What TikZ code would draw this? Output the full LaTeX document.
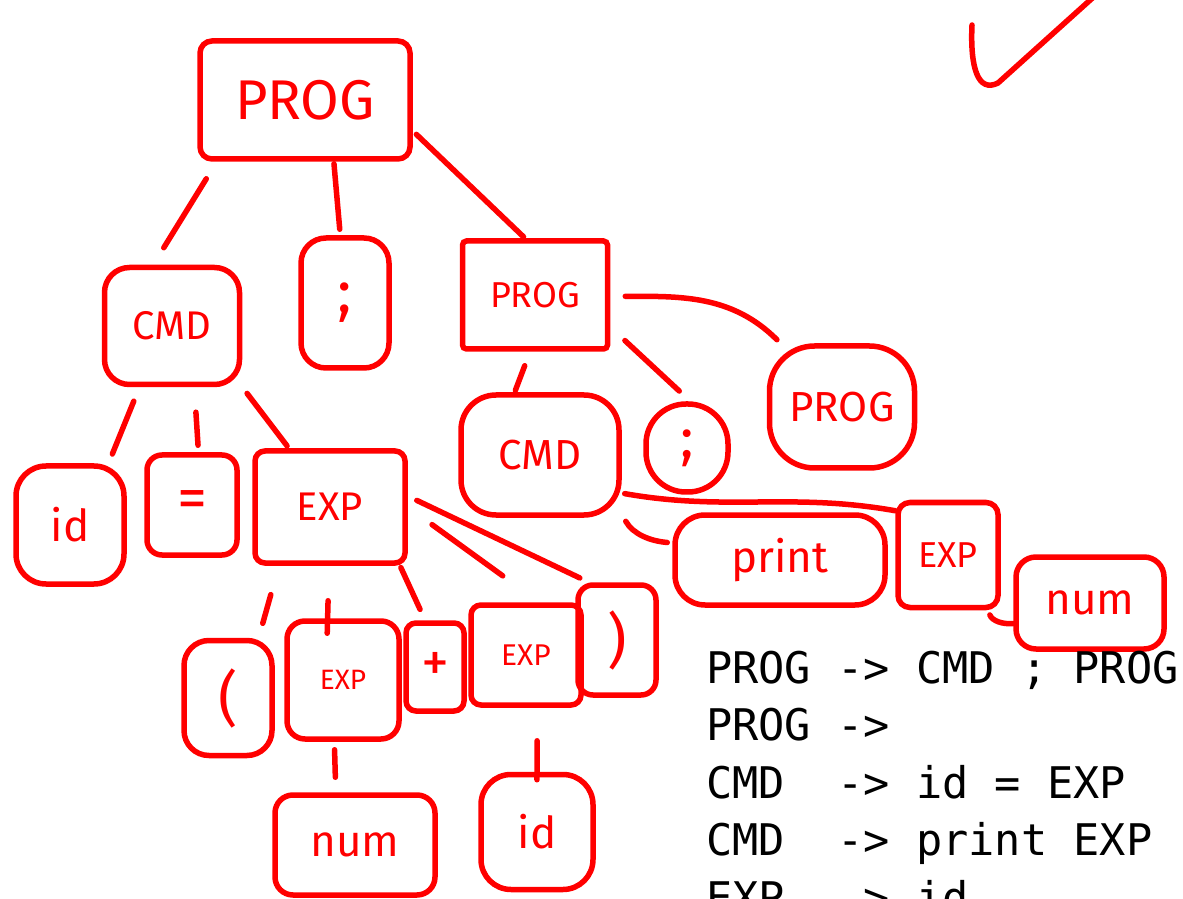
\documentclass[tikz,border=0pt]{standalone}
\usepackage{fontspec}
\newfontfamily\mano{Fira Sans}
\newfontfamily\mono{DejaVu Sans Mono}
\definecolor{penna}{RGB}{255,0,0}

\tikzset{
  testo/.style={font=\mano\fontsize{#1}{#1}\selectfont},
  nodo/.style={draw=penna, line width=5.5pt, rounded corners=#1, text=penna,
    inner sep=0pt, testo=40},
  nodo/.default=15pt,
  arco/.style={draw=penna, line width=5.5pt, line cap=round},
  grammatica/.style={anchor=base west, inner sep=0pt,
    font=\mono\fontsize{43.6}{52}\selectfont},
}

\begin{document}
\begin{tikzpicture}[x=1pt, y=1pt]
\useasboundingbox (0,0) rectangle (1183,898);
\clip (0,0) rectangle (1183,898);

% albero sintattico
\node[nodo=12pt, minimum width=210pt, minimum height=118pt, testo=56] (prog) at (305,798) {PROG};
\node[nodo=25pt, minimum width=135pt, minimum height=117pt] (cmd) at (172,572) {CMD};
\node[nodo=25pt, minimum width=88pt, minimum height=130pt, testo=60] (pv) at (345,595) {;};
\node[nodo=4pt, minimum width=145pt, minimum height=108pt, testo=36] (prog2) at (535,603) {PROG};
\node[nodo=45pt, minimum width=145pt, minimum height=122pt, testo=42] (prog3) at (842,491) {PROG};
\node[nodo=35pt, minimum width=158pt, minimum height=120pt, testo=42] (cmd2) at (540,443) {CMD};
\node[nodo=40pt, minimum width=82pt, minimum height=88pt, testo=56] (pv2) at (687,450) {;};
\node[nodo=30pt, minimum width=108pt, minimum height=118pt, testo=44] (id) at (70,373) {id};
\node[nodo=15pt, minimum width=90pt, minimum height=100pt, testo=60] (uguale) at (192,393) {=};
\node[nodo=10pt, minimum width=150pt, minimum height=112pt] (exp) at (330,391) {EXP};
\node[nodo=30pt, minimum width=210pt, minimum height=90pt, testo=44] (stampa) at (780,338) {print};
\node[nodo=12pt, minimum width=100pt, minimum height=105pt, testo=36] (exp2) at (948,343) {EXP};
\node[nodo=20pt, minimum width=148pt, minimum height=92pt, testo=44] (num2) at (1090,295) {num};
\node[nodo=25pt, minimum width=88pt, minimum height=115pt, testo=60] (apri) at (228,200) {(};
\node[nodo=18pt, minimum width=112pt, minimum height=118pt, testo=28] (exp3) at (343,218) {EXP};
\node[nodo=10pt, minimum width=58pt, minimum height=88pt, testo=56] (piu) at (435,231) {+};
\node[nodo=10pt, minimum width=110pt, minimum height=100pt, testo=30] (exp4) at (526,243) {EXP};
\node[nodo=15pt, minimum width=78pt, minimum height=110pt, testo=60] (chiudi) at (617,258) {)};
\node[nodo=18pt, minimum width=160pt, minimum height=100pt, testo=44] (num) at (355,53) {num};
\node[nodo=30pt, minimum width=112pt, minimum height=115pt, testo=44] (id2) at (537,66) {id};

% archi
\draw[arco, shorten <=20pt, shorten >=20pt] (prog.215) -- (cmd.107);
\draw[arco, shorten <=2pt, shorten >=6pt] (prog.295) -- (pv.94);
\draw[arco, shorten <=5pt, shorten >=2pt] (prog.344) -- (prog2.100);
\draw[arco, shorten <=15pt, shorten >=10pt] (cmd.242) -- (id.58);
\draw[arco, shorten <=25pt, shorten >=7pt] (cmd.290) -- (uguale.83);
\draw[arco, shorten <=8pt, shorten >=3pt] (cmd.319) -- (exp.125);
\draw[arco, shorten <=30pt, shorten >=15pt] (exp.229) -- (apri.63);
\draw[arco, shorten <=35pt, shorten >=-15pt] (exp.269) -- (exp3.104);
\draw[arco, shorten <=2pt, shorten >=12pt] (exp.320) -- (piu.102);
\draw[arco, shorten <=30pt, shorten >=45pt] (exp.0) -- (exp4.76);
\draw[arco, shorten <=10pt, shorten >=10pt] (exp.8) -- (chiudi.116);
\draw[arco, shorten <=8pt, shorten >=15pt] (exp3.262) -- (num.110);
\draw[arco, shorten <=33pt, shorten >=-8pt] (exp4.282) -- (id2.90);
\draw[arco, shorten <=15pt, shorten >=2pt] (prog2.265) -- (cmd2.112);
\draw[arco, shorten <=20pt, shorten >=15pt] (prog2.337) -- (pv2.86);
\draw[arco, shorten <=15pt, shorten >=5pt] (prog2.359) to[out=0, in=135] (prog3.134);
\draw[arco, shorten <=8pt, shorten >=5pt] (cmd2.324) to[out=-60, in=175] (stampa.171);
\draw[arco, shorten <=3pt] (cmd2.335) to[out=-10, in=170] (exp2.140);
\draw[arco, shorten <=5pt] (exp2.306) to[out=-70, in=185] (num2.195);

% spunta
\draw[arco] (972,873) .. controls (970,830) and (978,805) .. (998,815) -- (1098,905);

% grammatica
\node[grammatica] (r1) at (706,215) {PROG -> CMD ; PROG};
\node[grammatica] (r2) at (706,158) {PROG ->};
\node[grammatica] (r3) at (706,100) {CMD\ \ -> id = EXP};
\node[grammatica] (r4) at (706,43) {CMD\ \ -> print EXP};
\node[grammatica] (r5) at (706,-15) {EXP\ \ -> id};
\end{tikzpicture}
\end{document}
